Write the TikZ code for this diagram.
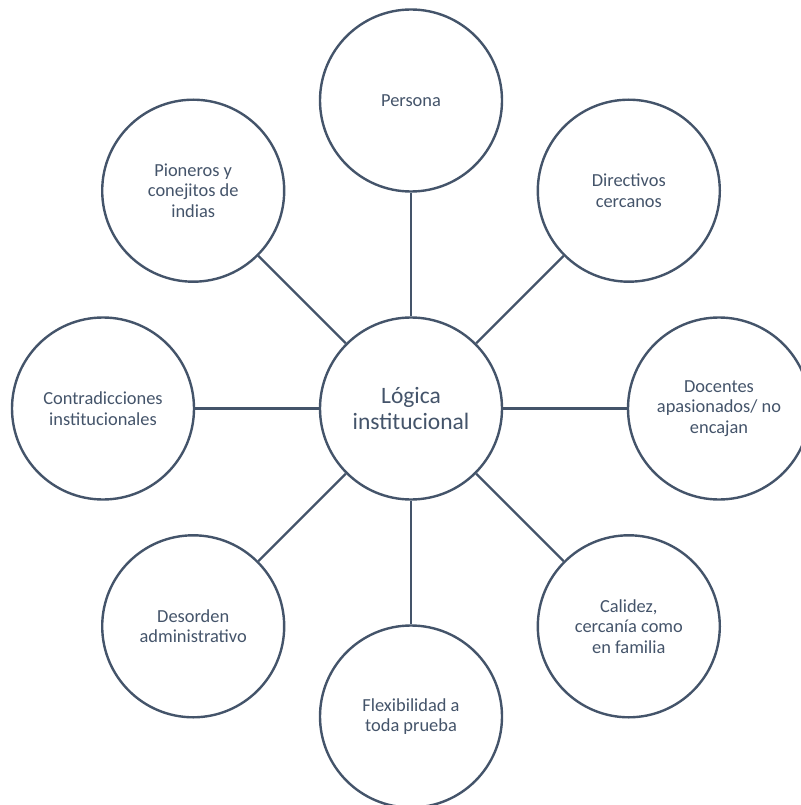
\documentclass[tikz,border=0pt]{standalone}
\usepackage{fontspec}
\setmainfont{Carlito}
\definecolor{slate}{HTML}{44546A}
\begin{document}
\begin{tikzpicture}[x=1pt,y=-1pt,
  bubble/.style={circle,draw=slate,line width=2.4pt,fill=white,minimum size=182pt,inner sep=0pt,
    text=slate,align=center,font=\fontsize{18.4}{20.5}\selectfont},
  hub/.style={bubble,font=\fontsize{23.5}{25.5}\selectfont},
  link/.style={draw=slate,line width=2.4pt}]
\useasboundingbox (0,0) rectangle (800,805);
\node[hub] (c) at (411,408.5) {Lógica\\institucional};
\node[bubble] (n) at (411,100.5) {Persona};
\node[bubble] (ne) at (628.8,190.7) {Directivos\\cercanos};
\node[bubble] (e) at (719,408.5) {Docentes\\apasionados/ no\\encajan};
\node[bubble] (se) at (628.8,626.3) {Calidez,\\cercanía como\\en familia};
\node[bubble] (s) at (411,716.5) {Flexibilidad a\\toda prueba};
\node[bubble] (sw) at (193.2,626.3) {Desorden\\administrativo};
\node[bubble] (w) at (103,408.5) {Contradicciones\\institucionales};
\node[bubble] (nw) at (193.2,190.7) {Pioneros y\\conejitos de\\indias};
\foreach \o in {n,ne,e,se,s,sw,w,nw}{\draw[link] (c) -- (\o);}
\end{tikzpicture}
\end{document}
